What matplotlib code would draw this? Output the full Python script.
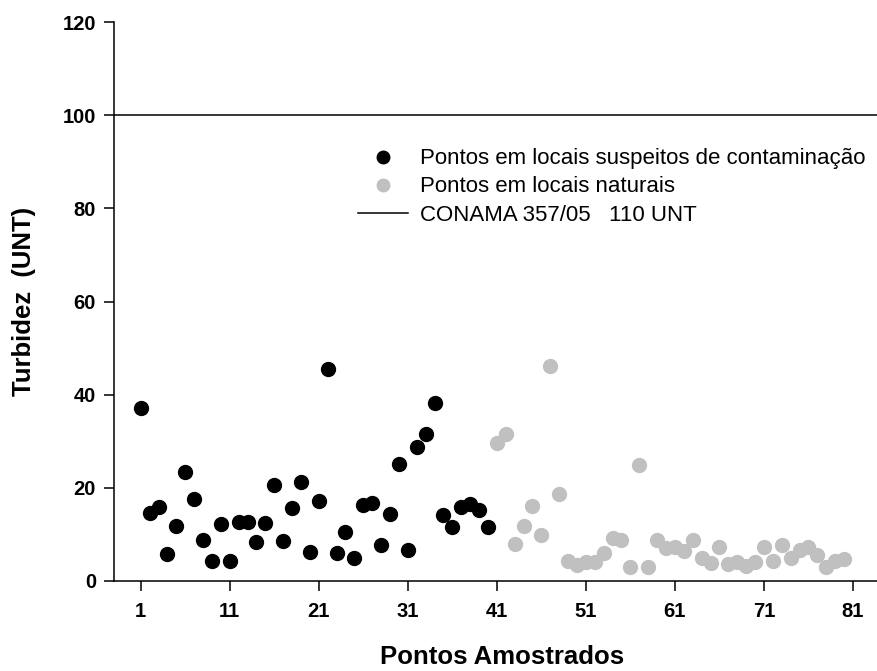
import numpy as np
import matplotlib
matplotlib.use('Agg')
import matplotlib.pyplot as plt

plt.rcParams['font.family'] = ['Liberation Sans', 'DejaVu Sans']

# pontos em locais suspeitos de contaminacao (1-40)
x_susp = np.arange(1, 41)
y_susp = [37.2, 14.7, 15.8, 5.7, 11.7, 23.5, 17.5, 8.9, 4.3, 12.3,
          4.3, 12.7, 12.7, 8.4, 12.4, 20.7, 8.6, 15.7, 21.2, 6.3,
          17.2, 45.6, 6.1, 10.5, 4.9, 16.4, 16.8, 7.8, 14.4, 25.1,
          6.6, 28.7, 31.6, 38.2, 14.1, 11.6, 15.9, 16.5, 15.2, 11.6]

# pontos em locais naturais (41-80)
x_nat = np.arange(41, 81)
y_nat = [29.6, 31.6, 8.0, 11.9, 16.0, 9.9, 46.1, 18.6, 4.4, 3.4,
         4.1, 4.0, 6.1, 9.2, 8.8, 3.1, 24.8, 3.1, 8.9, 7.0,
         7.2, 6.5, 8.9, 5.0, 3.9, 7.2, 3.6, 4.1, 3.3, 4.1,
         7.4, 4.2, 7.7, 5.0, 6.7, 7.2, 5.5, 2.9, 4.4, 4.7]

conama = 100
xticks = [1, 11, 21, 31, 41, 51, 61, 71, 81]
yticks = [0, 20, 40, 60, 80, 100, 120]

fig = plt.figure(figsize=(8.77, 6.71), dpi=100)
ax = fig.add_axes([114/877, 90/671, 1 - 114/877, (581-22)/671])

ax.plot(x_susp, y_susp, 'o', color='black', markersize=10, clip_on=False,
        label='Pontos em locais suspeitos de contaminação', zorder=3)
ax.plot(x_nat, y_nat, 'o', color='#c0c0c0', markersize=10, clip_on=False,
        label='Pontos em locais naturais', zorder=3)
ax.axhline(conama, color='black', lw=1.1, label='CONAMA 357/05   110 UNT')

ax.set_xlim(-2, 83.7)
ax.set_ylim(0, 120)
ax.set_xticks(xticks)
ax.set_yticks(yticks)
ax.tick_params(direction='out', length=7, width=1.1, labelsize=14.5)
for lab in ax.get_xticklabels() + ax.get_yticklabels():
    lab.set_fontweight('bold')
ax.tick_params(axis='x', pad=8)
ax.tick_params(axis='y', pad=6)

ax.spines['top'].set_visible(False)
ax.spines['right'].set_visible(False)
ax.spines['left'].set_linewidth(1.1)
ax.spines['bottom'].set_linewidth(1.1)

ax.set_xlabel('Pontos Amostrados', fontsize=18.5, fontweight='bold')
ax.xaxis.set_label_coords(0.5085, -0.114)
ax.set_ylabel('Turbidez  (UNT)', fontsize=18.5, fontweight='bold')
ax.yaxis.set_label_coords(-0.102, 0.5)

ax.legend(loc='upper left', bbox_to_anchor=(0.32, 0.774), frameon=False,
          fontsize=16, handlelength=2.25, handletextpad=0.55, labelspacing=0.32,
          borderaxespad=0, borderpad=0, markerscale=0.9)

fig.savefig('out.png', dpi=100)
